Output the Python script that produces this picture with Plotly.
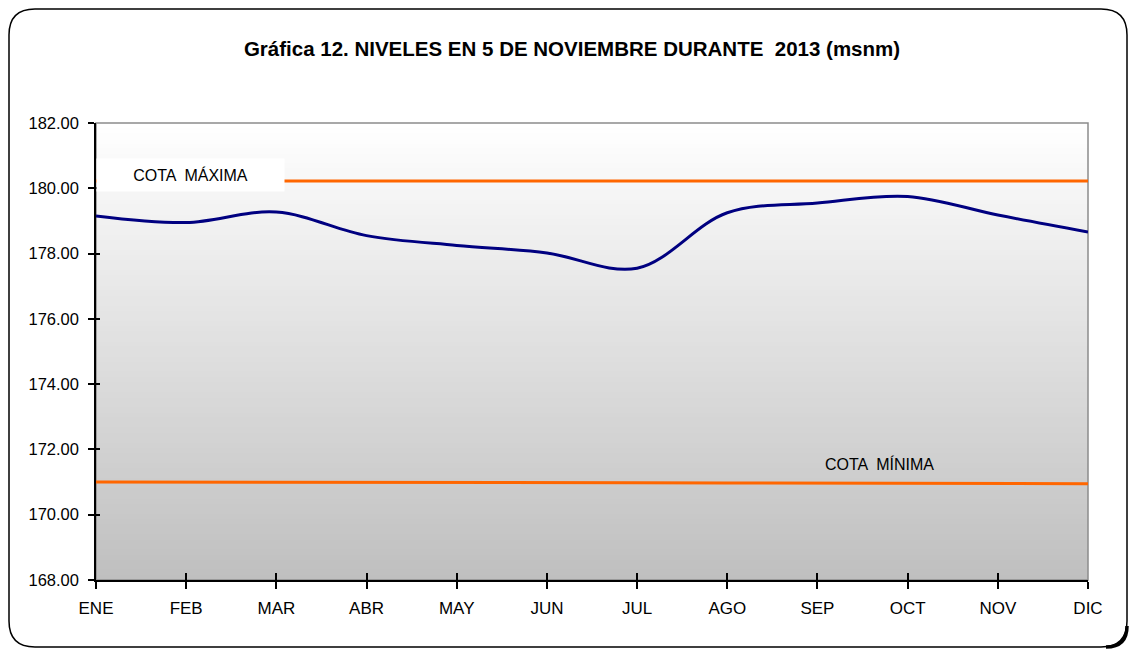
import plotly.graph_objects as go

months = ["ENE", "FEB", "MAR", "ABR", "MAY", "JUN", "JUL", "AGO", "SEP", "OCT", "NOV", "DIC"]
nivel = [179.15, 178.95, 179.27, 178.55, 178.25, 178.02, 177.55, 179.25, 179.55, 179.75, 179.18, 178.66]
cota_max = [180.22] * 12
cota_min = [171.00, 171.00, 170.99, 170.99, 170.99, 170.98, 170.98, 170.97, 170.97, 170.96, 170.96, 170.95]
y_ticks = [168, 170, 172, 174, 176, 178, 180, 182]

W, H = 1131, 652
L, R, T, B = 96, 43, 123, 72
pw, ph = W - L - R, H - T - B

def px(x):
    return (x - L) / pw

def py(y):
    return (H - B - y) / ph

xs = list(range(len(months)))
FONT = "Liberation Sans, Arial, sans-serif"

fig = go.Figure()
fig.add_trace(go.Scatter(x=xs, y=cota_max, mode="lines", line=dict(color="#ff6600", width=3),
                         hoverinfo="skip", showlegend=False))
fig.add_trace(go.Scatter(x=xs, y=cota_min, mode="lines", line=dict(color="#ff6600", width=3),
                         hoverinfo="skip", showlegend=False))
fig.add_trace(go.Scatter(x=xs, y=nivel, mode="lines", line=dict(color="#000080", width=3, shape="spline", smoothing=1.0),
                         showlegend=False))

shapes = []
# vertical gradient background of plot area (bands overlap to avoid seams)
n = 90
for i in range(n):
    f = i / n
    c = int(round(0xbf + (0xff - 0xbf) * (f + 0.5 / n)))
    shapes.append(dict(type="rect", xref="x domain", yref="y domain", x0=0, x1=1, y0=f,
                       y1=min(1.0, (i + 2) / n),
                       fillcolor=f"rgb({c},{c},{c})", line=dict(width=0), layer="below"))
# plot border (gray)
shapes.append(dict(type="rect", xref="x domain", yref="y domain", x0=0, x1=1, y0=0, y1=1,
                   line=dict(color="#8c8c8c", width=1.5), layer="below"))
# rounded outer frame
x0, y0, x1, y1, r = px(9), py(9), px(1127), py(647), 26
rx, ry = r / pw, r / ph
path = (f"M {x0+rx},{y0} L {x1-rx},{y0} Q {x1},{y0} {x1},{y0-ry} "
        f"L {x1},{y1+ry} Q {x1},{y1} {x1-rx},{y1} L {x0+rx},{y1} Q {x0},{y1} {x0},{y1+ry} "
        f"L {x0},{y0-ry} Q {x0},{y0} {x0+rx},{y0} Z")
shapes.append(dict(type="path", xref="paper", yref="paper", path=path, line=dict(color="#000000", width=1.5)))
# heavier shadow at the bottom-right corner
sx0, sy0 = px(1127), py(626)
sx1, sy1 = px(1106), py(647)
shapes.append(dict(type="path", xref="paper", yref="paper",
                   path=f"M {sx0},{sy0} Q {sx0},{sy1} {sx1},{sy1}",
                   line=dict(color="#000000", width=3.5)))

fig.update_layout(
    width=W, height=H,
    margin=dict(l=L, r=R, t=T, b=B),
    paper_bgcolor="white", plot_bgcolor="white",
    shapes=shapes,
    title=dict(text="<b>Gráfica 12. NIVELES EN 5 DE NOVIEMBRE DURANTE  2013 (msnm)</b>",
               xref="container", x=572 / W, xanchor="center", yref="container", y=1 - 49 / H, yanchor="middle",
               font=dict(family=FONT, size=20.5, color="black")),
    xaxis=dict(range=[0, 11], tickvals=xs, ticktext=months, showgrid=False, zeroline=False,
               showline=True, linecolor="black", linewidth=1.5, ticks="outside", ticklen=7,
               tickcolor="black", tickwidth=1.5, ticklabelstandoff=5,
               tickfont=dict(family=FONT, size=17, color="black"),
               fixedrange=True),
    yaxis=dict(range=[168, 182], tickvals=y_ticks, tickformat=".2f", showgrid=False, zeroline=False,
               showline=True, linecolor="black", linewidth=1.5, ticks="outside", ticklen=6,
               tickcolor="black", tickwidth=1.5, ticklabelstandoff=6,
               tickfont=dict(family=FONT, size=16.5, color="black"),
               fixedrange=True),
    xaxis2=dict(range=[0, 11], tickvals=xs, overlaying="x", side="bottom", showticklabels=False,
                showgrid=False, zeroline=False, ticks="inside", ticklen=7, tickcolor="black", tickwidth=1.5,
                anchor="y", fixedrange=True),
    yaxis2=dict(range=[168, 182], tickvals=y_ticks, overlaying="y", side="left", showticklabels=False,
                showgrid=False, zeroline=False, ticks="inside", ticklen=4, tickcolor="black", tickwidth=1.5,
                anchor="x", fixedrange=True),
    annotations=[
        dict(x=1.05, y=180.42, xref="x", yref="y", text="COTA  MÁXIMA", showarrow=False,
             font=dict(family=FONT, size=16, color="black"),
             bgcolor="white", width=185, height=30, xanchor="center", yanchor="middle"),
        dict(x=8.69, y=171.55, xref="x", yref="y", text="COTA  MÍNIMA", showarrow=False,
             font=dict(family=FONT, size=16, color="black"),
             xanchor="center", yanchor="middle"),
    ],
)
# dummy trace to activate overlay axes for crossing ticks
fig.add_trace(go.Scatter(x=[None], y=[None], xaxis="x2", yaxis="y2", showlegend=False, hoverinfo="skip"))

fig.write_html("out.html", config={"displayModeBar": False},
               post_script="document.body.style.margin='0';")
